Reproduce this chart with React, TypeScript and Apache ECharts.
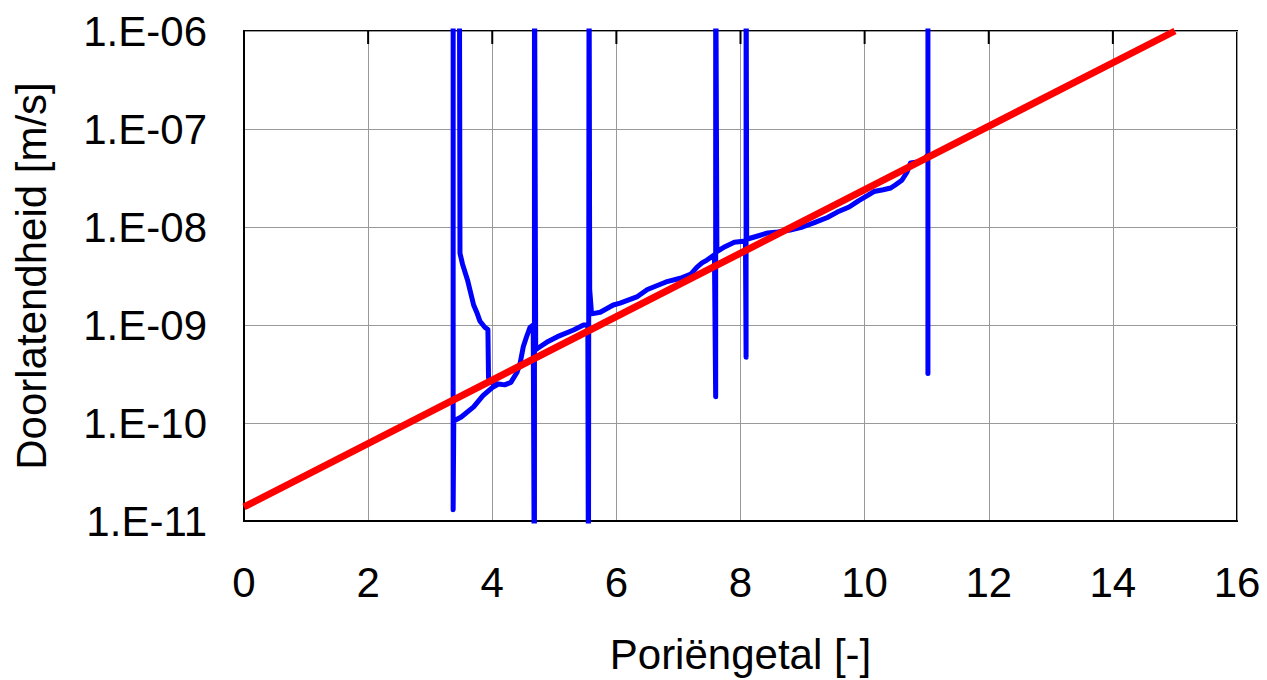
import React, { useEffect, useRef } from "react";
import * as echarts from "echarts";

// Blue measured series: void ratio (Poriëngetal) vs permeability (Doorlatendheid)
const blueE: number[] = [
  11.02, 11.02, 11.02, 10.95, 10.85, 10.74, 10.68, 10.6, 10.5, 10.42, 10.3, 10.15, 10.05, 9.9, 9.75,
  9.56, 9.4, 9.18, 9.0, 8.8, 8.6, 8.44, 8.25, 8.1,
  8.09, 8.09, 8.08,
  7.9, 7.75, 7.62,
  7.6, 7.6, 7.58,
  7.46, 7.38, 7.3, 7.2, 7.03, 6.8, 6.5, 6.34, 6.06, 5.95, 5.74, 5.6,
  5.57, 5.56, 5.55, 5.54,
  5.47, 5.31, 5.05, 4.9, 4.77, 4.7,
  4.68, 4.68, 4.66,
  4.61, 4.55, 4.5, 4.45, 4.4, 4.3, 4.2, 4.1, 4.0, 3.94,
  3.93, 3.88, 3.8, 3.76, 3.7, 3.6, 3.52, 3.48, 3.47,
  3.37, 3.37, 3.38, 3.5, 3.7, 3.85, 4.0, 4.1,
];
const blueK: number[] = [
  1e-5, 3.2e-10, 5.5e-8, 4.8e-8, 4.6e-8, 4.5e-8, 3.6e-8, 3.0e-8, 2.7e-8, 2.5e-8, 2.4e-8, 2.3e-8, 2.1e-8, 1.85e-8, 1.6e-8,
  1.42e-8, 1.25e-8, 1.1e-8, 1.0e-8, 9.3e-9, 8.9e-9, 8.7e-9, 8.0e-9, 7.5e-9,
  1e-5, 4.7e-10, 7.2e-9,
  7.0e-9, 6.3e-9, 5.6e-9,
  1e-5, 1.85e-10, 5.2e-9,
  4.6e-9, 4.3e-9, 3.9e-9, 3.3e-9, 3.0e-9, 2.75e-9, 2.3e-9, 1.95e-9, 1.67e-9, 1.6e-9, 1.35e-9, 1.3e-9,
  2.3e-9, 1e-5, 1e-12, 1.0e-9,
  1.0e-9, 8.9e-10, 7.6e-10, 6.8e-10, 6.0e-10, 5.6e-10,
  1e-5, 1e-12, 1.0e-9,
  9.5e-10, 7.5e-10, 6.0e-10, 4.1e-10, 3.3e-10, 2.6e-10, 2.45e-10, 2.5e-10, 2.55e-10, 2.9e-10,
  9.0e-10, 9.5e-10, 1.1e-9, 1.3e-9, 1.6e-9, 2.9e-9, 4.2e-9, 5.4e-9, 1e-5,
  1e-5, 1.3e-11, 1.05e-10, 1.15e-10, 1.46e-10, 1.9e-10, 2.3e-10, 2.5e-10,
];

// Red fitted trend line
const fitE: number[] = [0, 15];
const fitK: number[] = [1.39e-11, 1e-6];

const xTicks: number[] = [0, 2, 4, 6, 8, 10, 12, 14, 16];
const yTickExponents: number[] = [-11, -10, -9, -8, -7, -6];
const yTickLabels: string[] = ["1.E-11", "1.E-10", "1.E-09", "1.E-08", "1.E-07", "1.E-06"];

const FONT = "'Liberation Sans', Arial, sans-serif";

export default function App() {
  const ref = useRef<HTMLDivElement>(null);
  useEffect(() => {
    if (!ref.current) return;
    const chart = echarts.init(ref.current, undefined, { renderer: "svg" });
    const blueData = blueE.map((e, i) => [e, blueK[i]]);
    const fitData = fitE.map((e, i) => [e, fitK[i]]);
    const yMax = Math.pow(10, yTickExponents[yTickExponents.length - 1]);
    chart.setOption({
      animation: false,
      backgroundColor: "#ffffff",
      grid: {
        left: 244,
        right: 30,
        top: 31,
        bottom: 159,
        show: true,
        borderColor: "#000",
        borderWidth: 2,
        backgroundColor: "transparent",
      },
      xAxis: {
        type: "value",
        min: xTicks[0],
        max: xTicks[xTicks.length - 1],
        interval: 2,
        position: "bottom",
        name: "Poriëngetal [-]",
        nameLocation: "middle",
        nameGap: 112,
        nameTextStyle: { fontSize: 42, fontFamily: FONT, color: "#000" },
        axisLine: { show: true, lineStyle: { color: "#000", width: 2 } },
        axisTick: { show: false },
        axisLabel: { fontSize: 42, fontFamily: FONT, color: "#000", margin: 40 },
        splitLine: { show: true, lineStyle: { color: "#999", width: 1 } },
      },
      yAxis: {
        type: "log",
        logBase: 10,
        min: Math.pow(10, yTickExponents[0]),
        max: yMax,
        name: "Doorlatendheid [m/s]",
        nameLocation: "middle",
        nameGap: 192,
        nameTextStyle: { fontSize: 42, fontFamily: FONT, color: "#000" },
        axisLine: { show: true, lineStyle: { color: "#000", width: 2 } },
        axisTick: { show: false },
        axisLabel: {
          fontSize: 42,
          fontFamily: FONT,
          color: "#000",
          margin: 37,
          formatter: (v: number) => {
            const ex = Math.round(Math.log10(v));
            const idx = yTickExponents.indexOf(ex);
            return idx >= 0 ? yTickLabels[idx] : "";
          },
        },
        splitLine: { show: true, lineStyle: { color: "#999", width: 1 } },
      },
      series: [
        {
          type: "line",
          data: blueData,
          showSymbol: false,
          symbol: "none",
          clip: true,
          lineStyle: { color: "#0000ff", width: 5, join: "round", cap: "round" },
          z: 3,
        },
        {
          type: "line",
          data: fitData,
          showSymbol: false,
          symbol: "none",
          clip: true,
          lineStyle: { color: "#ff0000", width: 7 },
          z: 4,
        },
      ],
    });
    // inward tick marks on the top border, placed through the axis scales
    const yTop = chart.convertToPixel({ yAxisIndex: 0 }, yMax) as number;
    const ticks = xTicks.slice(1, -1).map((t) => {
      const x = chart.convertToPixel({ xAxisIndex: 0 }, t) as number;
      return {
        type: "line",
        shape: { x1: x, y1: yTop, x2: x, y2: yTop + 13 },
        style: { stroke: "#000", lineWidth: 2 },
        z: 10,
      };
    });
    chart.setOption({ graphic: ticks });
    return () => chart.dispose();
  }, []);
  return (
    <div
      ref={ref}
      style={{ position: "absolute", left: 0, top: 0, width: 1267, height: 680 }}
    />
  );
}
